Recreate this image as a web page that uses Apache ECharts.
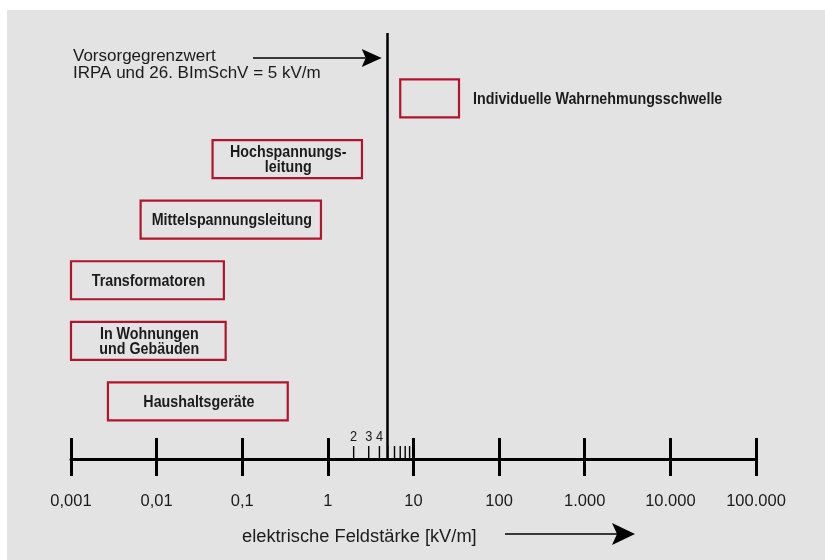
<!DOCTYPE html>
<html><head><meta charset="utf-8">
<script src="https://cdn.jsdelivr.net/npm/echarts@6/dist/echarts.min.js"></script>
<style>html,body{margin:0;padding:0;background:#fff}#c{width:825px;height:560px}</style>
</head><body><div id="c"></div>
<script>
// ---- data ----
const categories = ['Haushaltsgeräte', 'In Wohnungen\nund Gebäuden', 'Transformatoren', 'Mittelspannungsleitung', 'Hochspannungs-\nleitung', 'Individuelle Wahrnehmungsschwelle'];
const lows  = [0.0027, 0.001, 0.001, 0.0065, 0.045, 7];
const highs = [0.34, 0.064, 0.061, 0.83, 2.5, 34];
const limitValue = 5;
const minorTicks = [2, 3, 4, 5, 6, 7, 8, 9];
const minorTickLabels = ['2', '3', '4', '', '', '', '', ''];
const tickValues = [0.001, 0.01, 0.1, 1, 10, 100, 1000, 10000, 100000];
const tickLabels = ['0,001', '0,01', '0,1', '1', '10', '100', '1.000', '10.000', '100.000'];
const axisTitle = 'elektrische Feldstärke [kV/m]';
const noteLines = ['Vorsorgegrenzwert', 'IRPA und 26. BImSchV = 5 kV/m'];

// ---- styles ----
const RED = '#b1142c';
const INK = '#1b1b1b';
const REG = '"Liberation Sans", Arial, sans-serif';
const Y_MIN = 0.05, Y_MAX = 7.08;
const CONDENSE = 0.865;

const chart = echarts.init(document.getElementById('c'), null, {renderer: 'canvas'});

function labelFor(v) {
  const i = tickValues.findIndex(t => Math.abs(Math.log10(t) - Math.log10(v)) < 1e-6);
  return i >= 0 ? tickLabels[i] : '';
}

const boxData = lows.map((l, i) => [l, highs[i], i + 1]);
const minorData = minorTicks.map((v, i) => [v, minorTickLabels[i]]);

const option = {
  backgroundColor: '#e3e3e3',
  animation: false,
  grid: {left: 71, right: 69, top: 33, bottom: 101, containLabel: false},
  xAxis: [{
    type: 'log', logBase: 10, min: tickValues[0], max: tickValues[tickValues.length - 1],
    position: 'bottom',
    axisLine: {show: true, lineStyle: {color: '#000', width: 3}},
    axisTick: {show: true, inside: false, length: 17, lineStyle: {color: '#000', width: 3}},
    axisLabel: {show: true, margin: 42, verticalAlign: 'middle', color: INK, fontFamily: REG, fontSize: 16.5, formatter: labelFor},
    splitLine: {show: false}
  }, {
    type: 'log', logBase: 10, min: tickValues[0], max: tickValues[tickValues.length - 1],
    position: 'top', offset: -426,
    axisLine: {show: false},
    axisTick: {show: true, inside: false, length: 21, lineStyle: {color: '#000', width: 3}},
    axisLabel: {show: false},
    splitLine: {show: false}
  }],
  yAxis: {type: 'value', min: Y_MIN, max: Y_MAX, show: false, splitLine: {show: false}},
  series: [{
    type: 'custom',
    data: boxData,
    encode: {x: [0, 1], y: 2},
    clip: false,
    renderItem: function (params, api) {
      const lo = api.value(0), hi = api.value(1), row = api.value(2);
      const p0 = api.coord([lo, row]);
      const p1 = api.coord([hi, row]);
      const h = 38;
      const idx = params.dataIndex;
      const outside = idx === categories.length - 1;
      return {
        type: 'group',
        children: [{
          type: 'rect',
          shape: {x: p0[0], y: p0[1] - h / 2, width: p1[0] - p0[0], height: h},
          style: {fill: 'none', stroke: RED, lineWidth: 2.2}
        }, {
          type: 'text',
          x: outside ? p1[0] + 14 : (p0[0] + p1[0]) / 2 + 1,
          y: p0[1] + 1,
          scaleX: CONDENSE,
          style: {
            text: categories[idx],
            x: 0, y: 0,
            align: outside ? 'left' : 'center',
            verticalAlign: 'middle',
            font: 'bold 16.5px ' + REG,
            lineHeight: 15,
            fill: INK
          }
        }]
      };
    },
    markLine: {
      silent: true, symbol: 'none', label: {show: false},
      lineStyle: {color: '#000', width: 2.5, type: 'solid'},
      data: [{xAxis: limitValue}]
    }
  }, {
    type: 'custom',
    data: minorData,
    encode: {x: 0, y: -1},
    clip: false,
    renderItem: function (params, api) {
      const v = api.value(0);
      const p = api.coord([v, Y_MIN]);
      const lbl = minorData[params.dataIndex][1];
      return {
        type: 'group',
        children: [{
          type: 'line',
          shape: {x1: p[0], y1: p[1] - 1, x2: p[0], y2: p[1] - 13},
          style: {stroke: '#000', lineWidth: 1.4}
        }, {
          type: 'text',
          x: p[0], y: p[1] - 22, scaleX: 0.85,
          style: {text: lbl, x: 0, y: 0, align: 'center', verticalAlign: 'middle', font: '15px ' + REG, fill: INK}
        }]
      };
    }
  }]
};
chart.setOption(option);

function arrow(x1, x2, y, len, half, notch, lw) {
  return [{
    type: 'line', shape: {x1: x1, y1: y, x2: x2 - len + notch, y2: y}, style: {stroke: '#000', lineWidth: lw}, z: 100
  }, {
    type: 'polygon', shape: {points: [[x2, y], [x2 - len, y - half], [x2 - len + notch, y], [x2 - len, y + half]]},
    style: {fill: '#000'}, z: 100
  }];
}

const limitX = chart.convertToPixel({xAxisIndex: 0}, limitValue);
chart.setOption({
  graphic: [
    {type: 'rect', shape: {x: 0, y: 0, width: 825, height: 10}, style: {fill: '#fff'}, z: 100},
    {type: 'rect', shape: {x: 0, y: 0, width: 7, height: 560}, style: {fill: '#fff'}, z: 100},
    {type: 'text', style: {text: noteLines[0], x: 73, y: 56, verticalAlign: 'middle', font: '17px ' + REG, fill: INK}, z: 100},
    {type: 'text', style: {text: noteLines[1], x: 73, y: 73, verticalAlign: 'middle', font: '17px ' + REG, fill: INK}, z: 100},
    ...arrow(253, limitX - 6, 58, 20, 9, 4, 1.5),
    {type: 'text', style: {text: axisTitle, x: 242, y: 537, verticalAlign: 'middle', font: '18.3px ' + REG, fill: INK}, z: 100},
    ...arrow(505, 635, 534, 23, 11, 5, 1.5)
  ]
});
</script></body></html>
